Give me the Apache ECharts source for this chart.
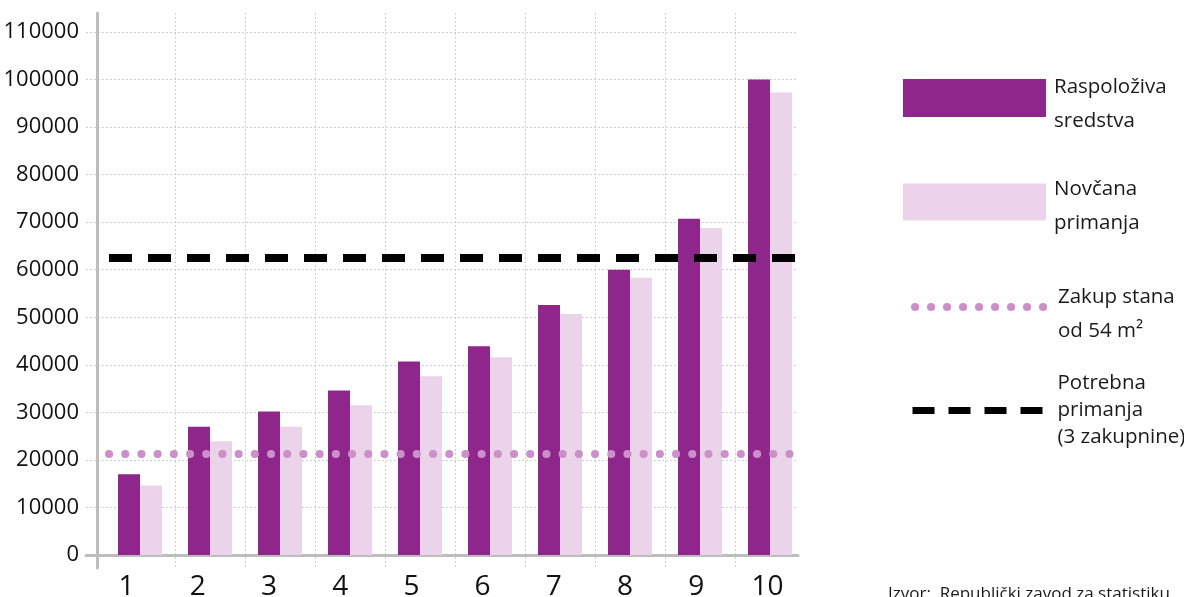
<!DOCTYPE html>
<html>
<head>
<meta charset="utf-8">
<script src="https://cdn.jsdelivr.net/npm/echarts@6/dist/echarts.min.js"></script>
<style>
html,body{margin:0;padding:0;background:#fff;}
#chart{width:1184px;height:597px;}
</style>
</head>
<body>
<div id="chart"></div>
<script>
// ---- data ----
const categories = ['1','2','3','4','5','6','7','8','9','10'];
const raspolozivaSredstva = [17000, 27000, 30200, 34600, 40700, 43900, 52600, 60000, 70700, 100000];
const novcanaPrimanja     = [14600, 23900, 27000, 31500, 37600, 41600, 50700, 58300, 68800, 97300];
const zakupStana = 21300;
const potrebnaPrimanja = 62500;
const yTicks = { min: 0, max: 110000, interval: 10000 };

const nameDark = 'Raspoloživa\nsredstva';
const nameLight = 'Novčana\nprimanja';
const nameRent = 'Zakup stana\nod 54 m²';
const nameNeed = 'Potrebna\nprimanja\n(3 zakupnine)';

const FONT = '"Open Sans", "Noto Sans", sans-serif';
const cDark = '#8f268c', cLight = '#ebd4ea', cDot = '#cc8fca', cAxis = '#bdbdbd', cGrid = '#cfcfcf';

const chart = echarts.init(document.getElementById('chart'), null, {renderer:'canvas'});

function legendBox(name, top, shift, lh, extra) {
  return Object.assign({
    show: true,
    data: [name],
    orient: 'vertical',
    left: 903,
    top: top,
    padding: 0,
    itemWidth: 143,
    itemHeight: 38,
    icon: 'rect',
    selectedMode: false,
    formatter: function (n) {
      const lines = n.split('\n').map(function (l) { return '{t|' + l + '}'; });
      return (shift > 0 ? '{s| }\n' : '') + lines.join('\n');
    },
    textStyle: {
      fontFamily: FONT, fontSize: 20.5, color: '#1a1a1a', lineHeight: lh,
      rich: {
        t: { fontFamily: FONT, fontSize: 20.5, color: '#1a1a1a', lineHeight: lh, padding: [0, 0, 0, 3] },
        s: { fontSize: 1, lineHeight: Math.max(1, shift * 2) }
      }
    }
  }, extra || {});
}

const G = { outerBoundsMode: 'none', containLabel: false };

const option = {
  animation: false,
  title: {
    text: 'Izvor:  Republički zavod za statistiku',
    left: 888, top: 586, padding: 0,
    textStyle: { fontFamily: FONT, fontSize: 17, fontWeight: 'normal', color: '#1a1a1a' }
  },
  legend: [
    legendBox(nameDark, 58, 6, 34),
    legendBox(nameLight, 164, 4, 34, { itemHeight: 37 }),
    legendBox(nameRent, 266, 7, 34, { icon: undefined, itemStyle: { opacity: 0 },
      lineStyle: { color: cDot, width: 8, type: [0.1, 15.9], cap: 'round', dashOffset: 8 } }),
    legendBox(nameNeed, 370, 0, 27, { icon: undefined, itemStyle: { opacity: 0 },
      lineStyle: { color: '#000', width: 7, type: [22, 14], cap: 'butt', dashOffset: 30 } })
  ],
  grid: [
    Object.assign({ left: 105, right: 379, top: 32, bottom: 42 }, G),   // bars
    Object.assign({ left: 86,  right: 386, top: 32, bottom: 42 }, G),   // x labels, baseline, horizontal grid
    Object.assign({ left: 105, right: 379, top: 13, bottom: 29 }, G),   // vertical grid, y axis line
    Object.assign({ left: 109, right: 386, top: 32, bottom: 42 }, G)    // reference lines
  ],
  xAxis: [
    { type: 'category', gridIndex: 0, data: categories, axisLine:{show:false}, axisTick:{show:false}, axisLabel:{show:false}, splitLine:{show:false} },
    { type: 'category', gridIndex: 1, data: categories,
      axisLine: { show: true, lineStyle: { color: cAxis, width: 3 } },
      axisTick: { show: false },
      axisLabel: { show: true, fontFamily: FONT, fontSize: 28, color: '#111', margin: 18, padding: [0, 0, 0, 10] },
      splitLine: { show: false } },
    { type: 'category', gridIndex: 2, data: categories, axisLine:{show:false}, axisTick:{show:false}, axisLabel:{show:false},
      splitLine: { show: true, showMinLine: false, showMaxLine: false, lineStyle: { color: cGrid, width: 1, type: [2, 2] } } },
    { type: 'category', gridIndex: 3, data: categories, show: false }
  ],
  yAxis: [
    { type: 'value', gridIndex: 0, min: yTicks.min, max: yTicks.max, interval: yTicks.interval,
      axisLine: { show: false }, axisTick: { show: false }, splitLine: { show: false },
      axisLabel: { show: true, fontFamily: FONT, fontSize: 22, color: '#111', margin: 26,
        formatter: function (v) { return String(v); } } },
    { type: 'value', gridIndex: 1, min: yTicks.min, max: yTicks.max, interval: yTicks.interval,
      axisLine: { show: false }, axisTick: { show: false }, axisLabel: { show: false },
      splitLine: { show: true, lineStyle: { color: cGrid, width: 1, type: [2, 2] } } },
    { type: 'value', gridIndex: 2, min: 0, max: 1, offset: 8,
      axisLine: { show: true, lineStyle: { color: cAxis, width: 3 } },
      axisTick: { show: false }, axisLabel: { show: false }, splitLine: { show: false } },
    { type: 'value', gridIndex: 3, min: yTicks.min, max: yTicks.max, show: false }
  ],
  series: [
    { name: nameDark, type: 'bar', xAxisIndex: 0, yAxisIndex: 0, data: raspolozivaSredstva,
      barWidth: 22, barGap: '0%', itemStyle: { color: cDark } },
    { name: nameLight, type: 'bar', xAxisIndex: 0, yAxisIndex: 0, data: novcanaPrimanja,
      barWidth: 22, barGap: '0%', itemStyle: { color: cLight } },
    { name: nameRent, type: 'line', xAxisIndex: 3, yAxisIndex: 3, data: [], symbol: 'none', symbolSize: 0,
      lineStyle: { color: cDot, width: 8, type: [0.1, 16.1], cap: 'round' },
      itemStyle: { color: cDot },
      markLine: { silent: true, symbol: 'none', label: { show: false },
        lineStyle: { color: cDot, width: 8, type: [0.1, 16.1], cap: 'round' },
        data: [{ yAxis: zakupStana }] } },
    { name: nameNeed, type: 'line', xAxisIndex: 3, yAxisIndex: 3, data: [], symbol: 'none', symbolSize: 0,
      lineStyle: { color: '#000', width: 8, type: [23, 16], cap: 'butt' },
      itemStyle: { color: '#000' },
      markLine: { silent: true, symbol: 'none', label: { show: false },
        lineStyle: { color: '#000', width: 8, type: [23, 16], cap: 'butt' },
        data: [{ yAxis: potrebnaPrimanja }] } }
  ]
};
chart.setOption(option);
</script>
</body>
</html>
